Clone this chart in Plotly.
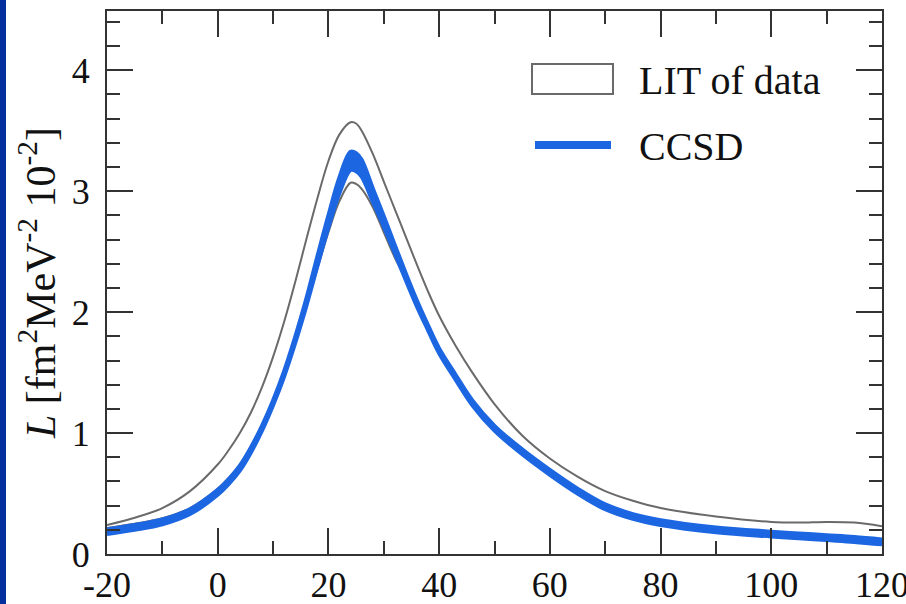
import plotly.graph_objects as go

# ---- data ----
energy = [-20, -15, -10, -5, 0, 2, 4, 6, 8, 10, 12, 14, 16, 18, 20, 22, 24, 25, 26, 28, 30, 32,
          34, 36, 38, 40, 43, 46, 50, 55, 60, 65, 70, 75, 80, 90, 100, 105, 110, 115, 120]
lit_upper = [0.24, 0.30, 0.38, 0.52, 0.74, 0.86, 1.00, 1.17, 1.38, 1.63, 1.92, 2.25, 2.60, 2.94,
             3.25, 3.47, 3.57, 3.56, 3.50, 3.31, 3.08, 2.85, 2.62, 2.39, 2.17, 1.97, 1.72,
             1.50, 1.24, 0.98, 0.79, 0.64, 0.52, 0.44, 0.38, 0.31, 0.265, 0.26, 0.265, 0.26, 0.23]
lit_lower = [0.215, 0.25, 0.295, 0.38, 0.54, 0.63, 0.74, 0.89, 1.07, 1.27, 1.50, 1.76, 2.05,
             2.36, 2.66, 2.92, 3.07, 3.06, 3.02, 2.87, 2.66, 2.45, 2.27, 2.07, 1.87, 1.68,
             1.46, 1.25, 1.04, 0.845, 0.675, 0.52, 0.39, 0.31, 0.26, 0.20, 0.165, 0.15, 0.135,
             0.12, 0.10]
ccsd_center = [0.185, 0.22, 0.265, 0.35, 0.51, 0.60, 0.71, 0.86, 1.04, 1.25, 1.49, 1.77, 2.08,
               2.42, 2.75, 3.05, 3.25, 3.24, 3.19, 2.97, 2.75, 2.52, 2.29, 2.07, 1.87, 1.68,
               1.46, 1.25, 1.04, 0.845, 0.675, 0.52, 0.39, 0.31, 0.26, 0.20, 0.165, 0.15, 0.135,
               0.12, 0.10]
ccsd_halfwidth = [0.02, 0.02, 0.02, 0.02, 0.02, 0.02, 0.02, 0.02, 0.02, 0.02, 0.022, 0.025, 0.03,
                  0.04, 0.05, 0.065, 0.075, 0.074, 0.07, 0.055, 0.043, 0.034, 0.028, 0.024,
                  0.02, 0.02, 0.02, 0.02, 0.02, 0.02, 0.02, 0.02, 0.02, 0.02, 0.02, 0.02, 0.02,
                  0.02, 0.02, 0.02, 0.02]

x_ticks = [-20, 0, 20, 40, 60, 80, 100, 120]
y_ticks = [0, 1, 2, 3, 4]
legend_labels = ["LIT of data", "CCSD"]

GRAY = "#6a6a6a"
BLUE = "#1c66e2"
FONT = "Liberation Serif, Times New Roman, serif"

ccsd_lo = [c - h for c, h in zip(ccsd_center, ccsd_halfwidth)]
ccsd_hi = [c + h for c, h in zip(ccsd_center, ccsd_halfwidth)]

fig = go.Figure()
fig.add_trace(go.Scatter(x=energy, y=lit_upper, mode="lines", name=legend_labels[0],
                         line=dict(color=GRAY, width=2, shape="spline", smoothing=1.0),
                         showlegend=False))
fig.add_trace(go.Scatter(x=energy, y=lit_lower, mode="lines", name=legend_labels[0] + " (lower)",
                         line=dict(color=GRAY, width=2, shape="spline", smoothing=1.0),
                         showlegend=False))
fig.add_trace(go.Scatter(x=energy, y=ccsd_lo, mode="lines", name=legend_labels[1] + " (lower)",
                         line=dict(color=BLUE, width=4, shape="spline", smoothing=1.0),
                         showlegend=False))
fig.add_trace(go.Scatter(x=energy, y=ccsd_hi, mode="lines", name=legend_labels[1],
                         line=dict(color=BLUE, width=4, shape="spline", smoothing=1.0),
                         fill="tonexty", fillcolor=BLUE, showlegend=False))

# plot geometry
W, H = 906, 604
ML, MR, MT, MB = 107, 24, 11, 50
PW, PH = W - ML - MR, H - MT - MB


def px(xp):
    return (xp - ML) / PW


def py(yp):
    return (H - MB - yp) / PH


shapes = [
    # dark blue strip at the left page edge
    dict(type="rect", xref="paper", yref="paper", x0=px(0), x1=px(6), y0=py(H + 5), y1=py(-5),
         fillcolor="#03309c", line=dict(width=0), layer="below"),
    # custom legend symbols
    dict(type="rect", xref="paper", yref="paper", x0=px(532), x1=px(613), y0=py(94), y1=py(64),
         line=dict(color=GRAY, width=2), fillcolor="white"),
    dict(type="line", xref="paper", yref="paper", x0=px(535), x1=px(611), y0=py(145), y1=py(145),
         line=dict(color=BLUE, width=8)),
]
annotations = [
    dict(text=legend_labels[0], xref="paper", yref="paper", x=px(637), y=py(80),
         xanchor="left", yanchor="middle", showarrow=False,
         font=dict(family=FONT, size=40, color="#111")),
    dict(text=legend_labels[1], xref="paper", yref="paper", x=px(637), y=py(146),
         xanchor="left", yanchor="middle", showarrow=False,
         font=dict(family=FONT, size=40, color="#111")),
]

axis_common = dict(
    showgrid=False, zeroline=False, showline=True, linecolor="#333", linewidth=2,
    mirror="allticks", ticks="inside", ticklen=26, tickwidth=2, tickcolor="#333",
    tickfont=dict(family=FONT, size=36, color="#111"), automargin=False,
    ticklabeloverflow="allow",
)

fig.update_layout(
    width=W, height=H,
    margin=dict(l=ML, r=MR, t=MT, b=MB),
    paper_bgcolor="white", plot_bgcolor="white",
    showlegend=False,
    shapes=shapes, annotations=annotations,
    xaxis=dict(range=[-20, 120], tickvals=x_ticks, ticktext=[str(v) for v in x_ticks],
               ticklabelstandoff=-2,
               minor=dict(dtick=10, tick0=0, ticks="inside", ticklen=13, tickwidth=2, tickcolor="#333"),
               **axis_common),
    yaxis=dict(range=[0, 4.49], tickvals=y_ticks, ticktext=[str(v) for v in y_ticks],
               ticklabelstandoff=8,
               minor=dict(dtick=0.2, tick0=0, ticks="inside", ticklen=13, tickwidth=2, tickcolor="#333"),
               title=dict(text="<i>L</i> [fm<sup>2</sup>MeV<sup>-2</sup> 10<sup>-2</sup>]",
                          font=dict(family=FONT, size=42, color="#111"), standoff=3),
               **axis_common),
)

fig.write_html("out.html")
